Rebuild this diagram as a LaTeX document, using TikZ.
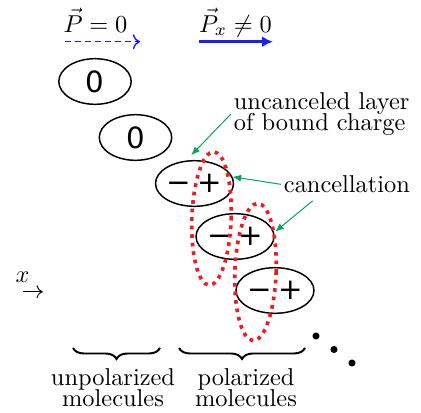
\documentclass[tikz,border=0pt]{standalone}
\usepackage{fontspec}
\usetikzlibrary{shapes.geometric,arrows.meta,decorations.pathreplacing}
\newfontfamily\molfont{DejaVu Sans}
\definecolor{cancelred}{RGB}{237,28,36}
\definecolor{pointgreen}{RGB}{0,166,81}
\definecolor{polblue}{RGB}{30,30,245}
\tikzset{
  molecule/.style={draw, ellipse, semithick, minimum width=29.7pt,
    minimum height=18.7pt, inner sep=0pt, font=\molfont\large},
  cancelring/.style={draw=cancelred, ellipse, line width=1.5pt, dotted,
    minimum width=16.5pt, minimum height=55.5pt, inner sep=0pt, rotate=-2},
  pointer/.style={pointgreen, -{Latex[length=3.5pt,width=2.8pt]}},
  note/.style={inner sep=1pt}
}
\begin{document}
\begin{tikzpicture}[x=0.41pt, y=-0.41pt]
    \path[use as bounding box] (0,0) rectangle (421,413);
    % Polarization
    \node[anchor=base] (pzero) at (95.5,32) {$\vec{P}=0$};
    \node[anchor=base] (pnonzero) at (235.5,32) {$\vec{P}_x\neq 0$};
    \coordinate (dz0) at (65,41.7);
    \coordinate (dz1) at (140,41.7);
    \coordinate (px0) at (199,41.7);
    \coordinate (px1) at (273,41.7);
    \draw[polblue, semithick, dash pattern=on 2.3pt off 1.8pt, ->] (dz0) -- (dz1);
    \draw[polblue, very thick, -{Latex[length=4.5pt,width=4.5pt]}] (px0) -- (px1);

    % Molecules
    \node[molecule] (e1) at (95,81.5) {0};
    \node[molecule] (e2) at (135.5,137.5) {0};
    \node[molecule] (e3) at (194.5,183.5) {−\hspace{2.5pt}+};
    \node[molecule] (e4) at (235,236.5) {−\hspace{2.5pt}+};
    \node[molecule] (e5) at (275,290.5) {−\hspace{2.5pt}+};
    \node[cancelring, minimum width=16.1pt, minimum height=54.7pt] (c1) at (211.5,218.5) {};
    \node[cancelring, minimum width=16.9pt, minimum height=56.3pt] (c2) at (255.5,272) {};
    \foreach \i in {0,1,2}
        \fill (316+18*\i,336+13.5*\i) circle (1.45pt);

    % Axis
    \node (xlab) at (22.5,277) {$x$};
    \coordinate (xa0) at (22.7,291.7);
    \coordinate (xa1) at (42.7,291.7);
    \draw[->] (xa0) -- (xa1);

    % Notes
    \node[note, anchor=base west, align=left] (uncanceled) at (231,130)
        {uncanceled layer\\[-3.7pt]of bound charge};
    \node[note, anchor=base west] (cancel) at (281,192.7) {cancellation};
    \draw[pointer, shorten >=3pt] (uncanceled.west) -- (e3.110);
    \draw[pointer] (cancel.west) -- (e3.10);
    \draw[pointer] ([xshift=13pt,yshift=-2pt]cancel.south west) -- (c2.66);

    % Groups
    \draw[thick, decorate, decoration={brace, mirror, amplitude=4.5pt}]
        (73,348) -- (160,348);
    \draw[thick, decorate, decoration={brace, mirror, amplitude=4.5pt}]
        (179,348) -- (305,348);
    \node[align=center, anchor=base] (unpol) at (113,406)
        {unpolarized\\[-3.7pt]molecules};
    \node[align=center, anchor=base] (pol) at (246,406)
        {polarized\\[-3.7pt]molecules};
  \end{tikzpicture}
\end{document}
